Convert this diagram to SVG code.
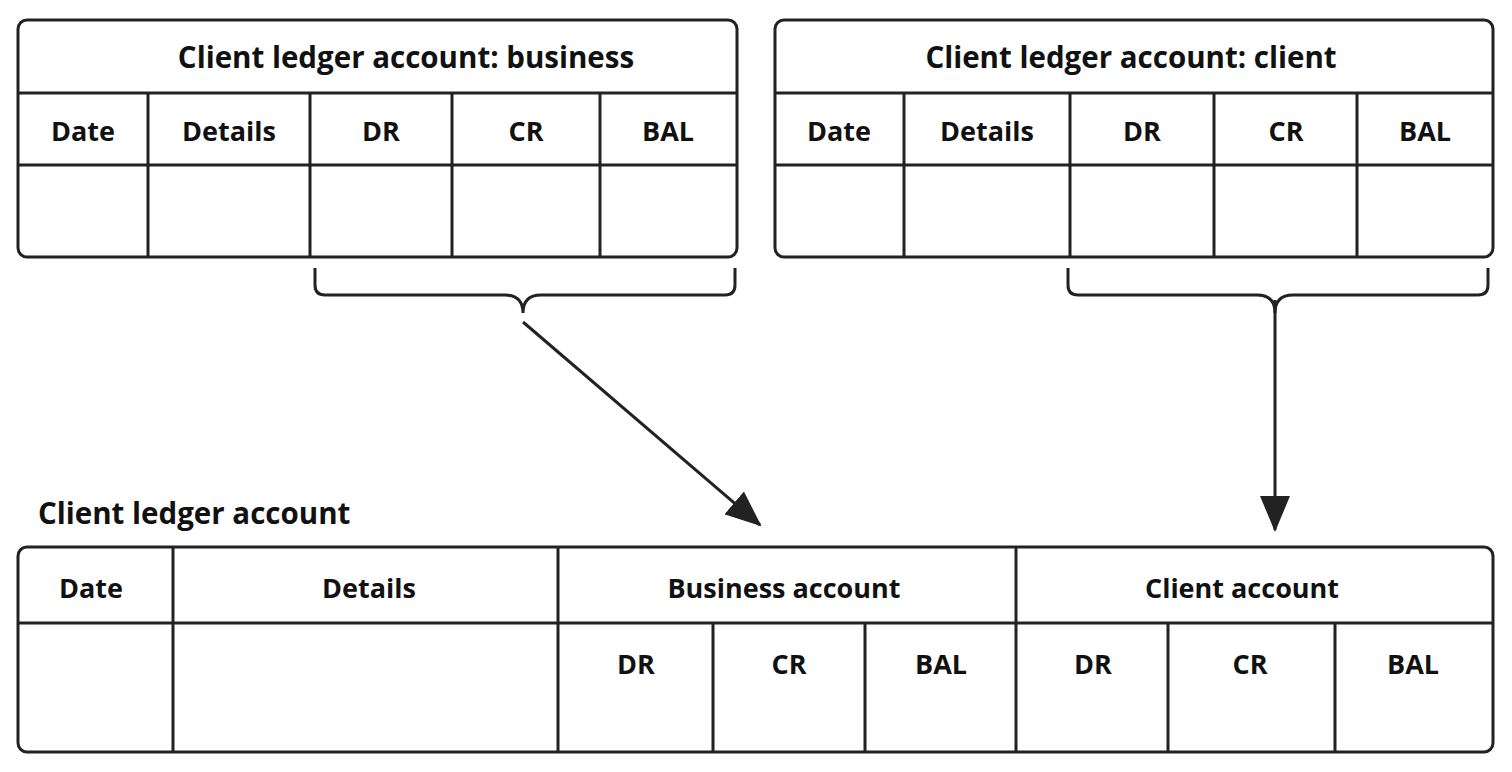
<svg xmlns="http://www.w3.org/2000/svg" width="1512" height="772" viewBox="0 0 1512 772">
<style>
.b{fill:#fff;stroke:#222;stroke-width:3}
.l{stroke:#222;stroke-width:3;fill:none}
text{font-family:"Open Sans","Liberation Sans",sans-serif;font-weight:bold;font-size:27px;fill:#111;text-anchor:middle;dominant-baseline:central}
.t{font-size:29.5px}
</style>
<defs>
<marker id="ah2" markerWidth="36" markerHeight="30" refX="34" refY="15" orient="auto" markerUnits="userSpaceOnUse" viewBox="0 0 36 30"><path d="M0,0L36,15L0,30z" fill="#222"/></marker></defs>
<rect width="1512" height="772" fill="#fff"/>
<g id="t1">
<rect class="b" x="18" y="20" width="719" height="237" rx="9"/>
<path class="l" d="M18,93H737M18,165H737M148,93V257M310,93V257M452,93V257M600,93V257"/>
<text class="t" x="406" y="56">Client ledger account: business</text>
<text x="83" y="130">Date</text><text x="229" y="130">Details</text><text x="381" y="130">DR</text><text x="526" y="130">CR</text><text x="668" y="130">BAL</text>
</g>
<g id="t2">
<rect class="b" x="775" y="20" width="718" height="237" rx="9"/>
<path class="l" d="M775,93H1493M775,165H1493M904,93V257M1070,93V257M1214,93V257M1357,93V257"/>
<text class="t" x="1131" y="56">Client ledger account: client</text>
<text x="839" y="130">Date</text><text x="987" y="130">Details</text><text x="1142" y="130">DR</text><text x="1286" y="130">CR</text><text x="1425" y="130">BAL</text>
</g>
<g id="braces">
<path class="l" d="M315,268V285Q315,295 325,295H505Q523,295 523,313Q523,295 541,295H725Q735,295 735,285V268"/>
<path class="l" d="M1068,268V285Q1068,295 1078,295H1257Q1275,295 1275,313Q1275,295 1293,295H1478Q1488,295 1488,285V268"/>
</g>
<g id="connectors">
<path class="l" d="M523,322L760,525" marker-end="url(#ah2)"/>
<path class="l" d="M1275,300V530" marker-end="url(#ah2)"/>
</g>
<text class="t" x="38" y="512" style="text-anchor:start">Client ledger account</text>
<g id="t3">
<rect class="b" x="18" y="547" width="1475" height="205" rx="9"/>
<path class="l" d="M18,623H1493M173,547V752M558,547V752M1016,547V752M713,623V752M865,623V752M1168,623V752M1335,623V752"/>
<text x="91" y="587">Date</text><text x="369" y="587">Details</text><text x="784" y="587">Business account</text><text x="1242" y="587">Client account</text>
<text x="636" y="663">DR</text><text x="789" y="663">CR</text><text x="941" y="663">BAL</text>
<text x="1093" y="663">DR</text><text x="1250" y="663">CR</text><text x="1413" y="663">BAL</text>
</g>
</svg>
